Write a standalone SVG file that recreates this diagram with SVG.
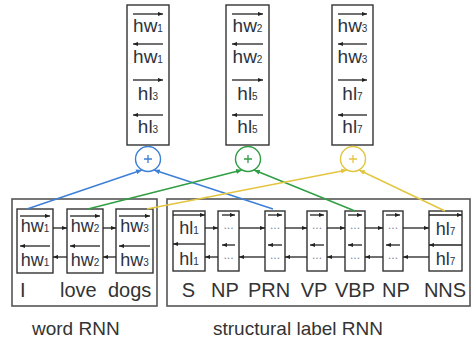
<svg xmlns="http://www.w3.org/2000/svg" width="473" height="345" viewBox="0 0 473 345">
<style>
.bg{fill:#fff}
.outer{fill:none;stroke:#555;stroke-width:1.6}
.box{fill:#fff;stroke:#333;stroke-width:1.4}
.ar{stroke:#222;stroke-width:1.3;fill:none;marker-end:url(#ah)}
.t{font-family:"Liberation Sans",Arial,sans-serif;fill:#2d3340;text-anchor:middle}
.big{font-size:19px}
.mid{font-size:18px}
.sub{font-size:10px}
.lab{font-family:"Liberation Sans",Arial,sans-serif;font-size:20px;fill:#333}
.cap{font-family:"Liberation Sans",Arial,sans-serif;font-size:19px;fill:#333}
.dots{font-family:"Liberation Sans",Arial,sans-serif;font-size:12px;fill:#7a8aa8;text-anchor:middle}
.blue{stroke:#3c7fd6}
.green{stroke:#2f9e44}
.yellow{stroke:#e3c540}
.circ{fill:#fff;stroke-width:1.4}
.conn{fill:none;stroke-width:1.4}
</style>
<defs>
<marker id="ah" viewBox="0 0 6 6" refX="6" refY="3" markerWidth="5" markerHeight="5" markerUnits="userSpaceOnUse" orient="auto"><path d="M0,0.5 L6,3 L0,5.5z" fill="#222"/></marker>
<marker id="ahb" viewBox="0 0 6 6" refX="6" refY="3" markerWidth="6" markerHeight="6" markerUnits="userSpaceOnUse" orient="auto"><path d="M0,0.5 L6,3 L0,5.5z" fill="#3c7fd6"/></marker>
<marker id="ahg" viewBox="0 0 6 6" refX="6" refY="3" markerWidth="6" markerHeight="6" markerUnits="userSpaceOnUse" orient="auto"><path d="M0,0.5 L6,3 L0,5.5z" fill="#2f9e44"/></marker>
<marker id="ahy" viewBox="0 0 6 6" refX="6" refY="3" markerWidth="6" markerHeight="6" markerUnits="userSpaceOnUse" orient="auto"><path d="M0,0.5 L6,3 L0,5.5z" fill="#e3c540"/></marker>
</defs>
<rect class="bg" x="0" y="0" width="473" height="345"/>

<!-- top concatenated vectors -->
<g id="top1">
<rect class="box" x="127" y="5" width="42" height="140"/>
<line class="ar" x1="133" y1="14" x2="163" y2="14"/>
<text class="t big" x="148" y="32">hw<tspan class="sub">1</tspan></text>
<line class="ar" x1="163" y1="44" x2="133" y2="44"/>
<text class="t big" x="148" y="63">hw<tspan class="sub">1</tspan></text>
<line class="ar" x1="133" y1="80" x2="163" y2="80"/>
<text class="t big" x="148" y="100">hl<tspan class="sub">3</tspan></text>
<line class="ar" x1="163" y1="115" x2="133" y2="115"/>
<text class="t big" x="148" y="133">hl<tspan class="sub">3</tspan></text>
</g>
<g id="top2">
<rect class="box" x="226" y="5" width="43" height="140"/>
<line class="ar" x1="232" y1="14" x2="263" y2="14"/>
<text class="t big" x="247.5" y="32">hw<tspan class="sub">2</tspan></text>
<line class="ar" x1="263" y1="44" x2="232" y2="44"/>
<text class="t big" x="247.5" y="63">hw<tspan class="sub">2</tspan></text>
<line class="ar" x1="232" y1="80" x2="263" y2="80"/>
<text class="t big" x="247.5" y="100">hl<tspan class="sub">5</tspan></text>
<line class="ar" x1="263" y1="115" x2="232" y2="115"/>
<text class="t big" x="247.5" y="133">hl<tspan class="sub">5</tspan></text>
</g>
<g id="top3">
<rect class="box" x="332" y="5" width="41" height="140"/>
<line class="ar" x1="338" y1="14" x2="367" y2="14"/>
<text class="t big" x="352.5" y="32">hw<tspan class="sub">3</tspan></text>
<line class="ar" x1="367" y1="44" x2="338" y2="44"/>
<text class="t big" x="352.5" y="63">hw<tspan class="sub">3</tspan></text>
<line class="ar" x1="338" y1="80" x2="367" y2="80"/>
<text class="t big" x="352.5" y="100">hl<tspan class="sub">7</tspan></text>
<line class="ar" x1="367" y1="115" x2="338" y2="115"/>
<text class="t big" x="352.5" y="133">hl<tspan class="sub">7</tspan></text>
</g>

<!-- plus circles -->
<g id="plus1">
<circle class="circ blue" cx="148" cy="159" r="12.5"/>
<path class="blue" d="M144,159 H152 M148,155 V163" stroke-width="1.3"/>
</g>
<g id="plus2">
<circle class="circ green" cx="248" cy="159" r="12.5"/>
<path class="green" d="M244,159 H252 M248,155 V163" stroke-width="1.3"/>
</g>
<g id="plus3">
<circle class="circ yellow" cx="353" cy="159" r="12.5"/>
<path class="yellow" d="M349,159 H357 M353,155 V163" stroke-width="1.3"/>
</g>

<!-- outer frames -->
<g id="wordRNN">
<rect class="outer" x="12" y="199" width="145" height="107"/>
<text class="cap" x="32" y="335">word RNN</text>
</g>
<g id="labelRNN">
<rect class="outer" x="167" y="199" width="303" height="107"/>
<text class="cap" x="213" y="335">structural label RNN</text>
</g>

<!-- word nodes -->
<g id="w1">
<rect class="box" x="17" y="209" width="36" height="64"/>
<line class="ar" x1="20" y1="216" x2="50" y2="216"/>
<text class="t mid" x="35" y="232">hw<tspan class="sub">1</tspan></text>
<line class="ar" x1="50" y1="246" x2="20" y2="246"/>
<text class="t mid" x="35" y="266">hw<tspan class="sub">1</tspan></text>
<text class="lab" x="20" y="297">I</text>
</g>
<g id="w2">
<rect class="box" x="67" y="209" width="36" height="64"/>
<line class="ar" x1="70" y1="216" x2="100" y2="216"/>
<text class="t mid" x="85" y="232">hw<tspan class="sub">2</tspan></text>
<line class="ar" x1="100" y1="246" x2="70" y2="246"/>
<text class="t mid" x="85" y="266">hw<tspan class="sub">2</tspan></text>
<text class="lab" x="60" y="297">love</text>
</g>
<g id="w3">
<rect class="box" x="116" y="209" width="37" height="64"/>
<line class="ar" x1="119" y1="216" x2="150" y2="216"/>
<text class="t mid" x="134.5" y="232">hw<tspan class="sub">3</tspan></text>
<line class="ar" x1="150" y1="246" x2="119" y2="246"/>
<text class="t mid" x="134.5" y="266">hw<tspan class="sub">3</tspan></text>
<text class="lab" x="108" y="297">dogs</text>
</g>

<!-- label nodes -->
<g id="l1">
<rect class="box" x="173" y="211" width="32" height="60"/>
<line class="ar" x1="173" y1="215" x2="205" y2="215"/>
<text class="t mid" x="189" y="234">hl<tspan class="sub">1</tspan></text>
<line class="ar" x1="205" y1="244" x2="173" y2="244"/>
<text class="t mid" x="189" y="265">hl<tspan class="sub">1</tspan></text>
<text class="lab" x="188.5" y="297" text-anchor="middle">S</text>
</g>
<g id="l2">
<rect class="box" x="218" y="211" width="21" height="60"/>
<line class="ar" x1="222" y1="215" x2="235" y2="215"/>
<text class="dots" x="228.5" y="229">...</text>
<line class="ar" x1="235" y1="245" x2="222" y2="245"/>
<text class="dots" x="228.5" y="259">...</text>
<text class="lab" x="225" y="297" text-anchor="middle">NP</text>
</g>
<g id="l3">
<rect class="box" x="265" y="211" width="20" height="60"/>
<line class="ar" x1="268" y1="215" x2="282" y2="215"/>
<text class="dots" x="275" y="229">...</text>
<line class="ar" x1="282" y1="245" x2="268" y2="245"/>
<text class="dots" x="275" y="259">...</text>
<text class="lab" x="269" y="297" text-anchor="middle">PRN</text>
</g>
<g id="l4">
<rect class="box" x="307" y="211" width="20" height="60"/>
<line class="ar" x1="310" y1="215" x2="324" y2="215"/>
<text class="dots" x="317" y="229">...</text>
<line class="ar" x1="324" y1="245" x2="310" y2="245"/>
<text class="dots" x="317" y="259">...</text>
<text class="lab" x="314" y="297" text-anchor="middle">VP</text>
</g>
<g id="l5">
<rect class="box" x="345" y="211" width="20" height="60"/>
<line class="ar" x1="348" y1="215" x2="362" y2="215"/>
<text class="dots" x="355" y="229">...</text>
<line class="ar" x1="362" y1="245" x2="348" y2="245"/>
<text class="dots" x="355" y="259">...</text>
<text class="lab" x="355" y="297" text-anchor="middle">VBP</text>
</g>
<g id="l6">
<rect class="box" x="383" y="211" width="20" height="60"/>
<line class="ar" x1="386" y1="215" x2="400" y2="215"/>
<text class="dots" x="393" y="229">...</text>
<line class="ar" x1="400" y1="245" x2="386" y2="245"/>
<text class="dots" x="393" y="259">...</text>
<text class="lab" x="396" y="297" text-anchor="middle">NP</text>
</g>
<g id="l7">
<rect class="box" x="429" y="211" width="33" height="60"/>
<line class="ar" x1="429" y1="215" x2="462" y2="215"/>
<text class="t mid" x="445.5" y="235">hl<tspan class="sub">7</tspan></text>
<line class="ar" x1="462" y1="245" x2="429" y2="245"/>
<text class="t mid" x="445.5" y="265">hl<tspan class="sub">7</tspan></text>
<text class="lab" x="445" y="297" text-anchor="middle">NNS</text>
</g>

<!-- connectors -->
<g id="connectors">
<line class="ar" x1="53" y1="228" x2="67" y2="228"/>
<line class="ar" x1="67" y1="257" x2="53" y2="257"/>
<line class="ar" x1="103" y1="228" x2="116" y2="228"/>
<line class="ar" x1="116" y1="257" x2="103" y2="257"/>
<line class="ar" x1="205" y1="228" x2="218" y2="228"/>
<line class="ar" x1="218" y1="257" x2="205" y2="257"/>
<line class="ar" x1="239" y1="228" x2="265" y2="228"/>
<line class="ar" x1="265" y1="257" x2="239" y2="257"/>
<line class="ar" x1="285" y1="228" x2="307" y2="228"/>
<line class="ar" x1="307" y1="257" x2="285" y2="257"/>
<line class="ar" x1="327" y1="228" x2="345" y2="228"/>
<line class="ar" x1="345" y1="257" x2="327" y2="257"/>
<line class="ar" x1="365" y1="228" x2="383" y2="228"/>
<line class="ar" x1="383" y1="257" x2="365" y2="257"/>
<line class="ar" x1="403" y1="228" x2="429" y2="228"/>
<line class="ar" x1="429" y1="257" x2="403" y2="257"/>

<line class="conn blue" x1="27" y1="209" x2="142" y2="170" marker-end="url(#ahb)"/>
<line class="conn blue" x1="273" y1="209" x2="154" y2="170" marker-end="url(#ahb)"/>
<line class="conn green" x1="88" y1="209" x2="242" y2="170" marker-end="url(#ahg)"/>
<line class="conn green" x1="355" y1="211" x2="254" y2="170" marker-end="url(#ahg)"/>
<line class="conn yellow" x1="147" y1="209" x2="347" y2="170" marker-end="url(#ahy)"/>
<line class="conn yellow" x1="445" y1="211" x2="359" y2="170" marker-end="url(#ahy)"/>
</g>
</svg>
